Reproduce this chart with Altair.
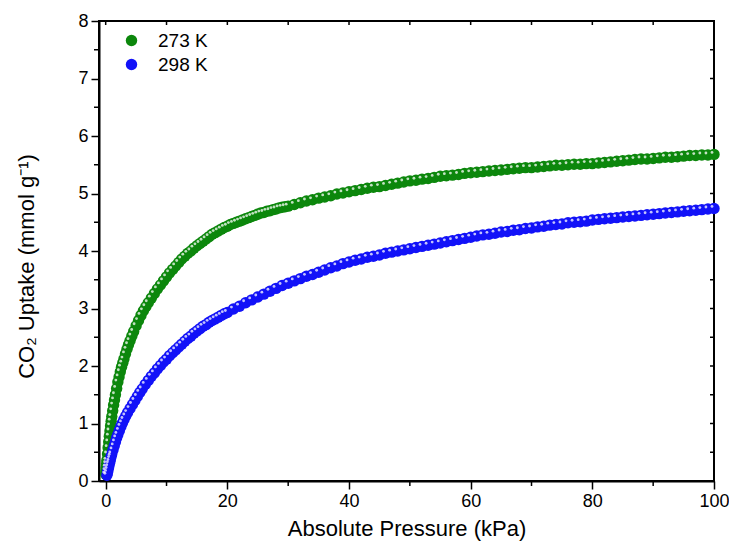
import altair as alt
import pandas as pd

# ---- data ----
p273 = [0.0, 0.05, 0.1, 0.15, 0.2, 0.3, 0.4, 0.5, 0.6, 0.7, 0.8, 0.9, 1.0, 1.15, 1.3, 1.45, 1.6, 1.8, 2.0, 2.2,
        2.4, 2.6, 2.8, 3.0, 3.25, 3.5, 3.75, 4.0, 4.3, 4.6, 5.0, 5.4, 5.8, 6.2, 6.6, 7.0, 7.5, 8.0, 8.5, 9.0, 9.5,
        10, 10.5, 11, 11.5, 12, 12.5, 13, 13.5, 14, 14.5, 15, 15.5, 16, 16.5, 17, 17.5, 18, 18.5, 19, 19.5,
        20, 20.5, 21, 21.5, 22, 22.5, 23, 23.5, 24, 24.5, 25, 25.5, 26, 26.5, 27, 27.5, 28, 28.5, 29, 29.5,
        30, 31, 32, 33, 34, 35,
        36, 37, 38, 39, 40, 41, 42, 43, 44, 45, 46, 47, 48, 49, 50, 51, 52, 53, 54, 55, 56, 57, 58, 59, 60, 61,
        62, 63, 64, 65, 66, 67, 68, 69, 70, 71, 72, 73, 74, 75, 76, 77, 78, 79, 80, 81, 82, 83, 84, 85, 86, 87,
        88, 89, 90, 91, 92, 93, 94, 95, 96, 97, 98, 99, 100]
u273 = [0.12, 0.18, 0.24, 0.30, 0.36, 0.47, 0.58, 0.68, 0.78, 0.87, 0.96, 1.04, 1.12, 1.22, 1.32, 1.41, 1.50, 1.61,
        1.72, 1.81, 1.90, 1.98, 2.05, 2.12, 2.21, 2.29, 2.37, 2.44, 2.52, 2.60, 2.70, 2.79, 2.88, 2.96, 3.03, 3.10,
        3.18, 3.26, 3.34, 3.41, 3.48,
        3.55, 3.62, 3.68, 3.74, 3.80, 3.86, 3.91, 3.96, 4.00, 4.05, 4.09, 4.13, 4.17, 4.21, 4.25, 4.29, 4.32, 4.35,
        4.38, 4.41, 4.43, 4.46, 4.48, 4.50, 4.52, 4.54, 4.56, 4.58, 4.60, 4.62, 4.64, 4.66, 4.67, 4.69, 4.70, 4.72,
        4.73, 4.75, 4.76, 4.77,
        4.78, 4.81, 4.84, 4.87, 4.89, 4.92, 4.94, 4.96, 4.99, 5.01, 5.03,
        5.05, 5.07, 5.09, 5.11, 5.12, 5.14, 5.16, 5.18, 5.20, 5.22, 5.23, 5.25, 5.26, 5.28, 5.30, 5.31, 5.32, 5.33,
        5.35, 5.36, 5.37, 5.38, 5.39, 5.40, 5.41, 5.42, 5.43, 5.44, 5.45, 5.45, 5.46, 5.47, 5.48, 5.49, 5.49, 5.50,
        5.51, 5.51, 5.52, 5.52, 5.53, 5.54, 5.55, 5.56, 5.57, 5.58, 5.59, 5.60, 5.60, 5.61, 5.62, 5.63, 5.63, 5.64,
        5.65, 5.66, 5.66, 5.67, 5.67, 5.68]

p298 = [0.2, 0.3, 0.4, 0.5, 0.6, 0.7, 0.8, 0.9, 1.0, 1.2, 1.4, 1.6, 1.8, 2.0, 2.25, 2.5, 2.75, 3.0, 3.3, 3.6, 4.0,
        4.4, 4.8, 5.2, 5.6, 6.0, 6.5, 7.0, 7.5, 8.0, 8.5, 9.0, 9.5, 10, 10.5, 11, 11.5, 12, 12.5, 13, 13.5, 14,
        14.5, 15, 15.5, 16, 16.5, 17, 17.5, 18, 18.5, 19, 19.5, 20, 21, 22, 23, 24, 25, 26, 27, 28, 29, 30, 31,
        32, 33, 34, 35, 36, 37, 38, 39, 40, 41, 42, 43, 44, 45, 46, 47, 48, 49, 50, 51, 52, 53, 54, 55, 56, 57,
        58, 59, 60, 61, 62, 63, 64, 65, 66, 67, 68, 69, 70, 71, 72, 73, 74, 75, 76, 77, 78, 79, 80, 81, 82, 83,
        84, 85, 86, 87, 88, 89, 90, 91, 92, 93, 94, 95, 96, 97, 98, 99, 100]
u298 = [0.10, 0.15, 0.20, 0.25, 0.30, 0.34, 0.39, 0.43, 0.47, 0.54, 0.61, 0.68, 0.75, 0.81, 0.88, 0.95, 1.01, 1.07,
        1.13, 1.19, 1.26, 1.33, 1.40, 1.47, 1.54, 1.60, 1.68, 1.75, 1.82, 1.88, 1.95, 2.01, 2.07, 2.12, 2.18, 2.23,
        2.28, 2.33, 2.38, 2.43, 2.48, 2.52, 2.57, 2.61, 2.65, 2.69, 2.72, 2.76, 2.79, 2.82, 2.85, 2.88, 2.91, 2.93,
        2.99, 3.04, 3.10, 3.15, 3.20, 3.25, 3.30, 3.35, 3.40, 3.44, 3.48, 3.52, 3.56, 3.59, 3.63, 3.67, 3.71, 3.74,
        3.78, 3.81, 3.84, 3.86, 3.89, 3.91, 3.93, 3.96, 3.98, 4.00, 4.02, 4.04, 4.06, 4.08, 4.10, 4.12, 4.14, 4.16,
        4.18, 4.20, 4.22, 4.24, 4.26, 4.28, 4.29, 4.31, 4.33, 4.34, 4.36, 4.37, 4.39, 4.40, 4.42, 4.43, 4.45, 4.46,
        4.47, 4.49, 4.50, 4.51, 4.52, 4.54, 4.55, 4.56, 4.57, 4.58, 4.59, 4.60, 4.61, 4.62, 4.63, 4.64, 4.65, 4.66,
        4.67, 4.68, 4.69, 4.70, 4.71, 4.72, 4.73, 4.74]

series = ["273 K", "298 K"]
colors = ["#0c870c", "#1212f8"]

x_major = [0, 20, 40, 60, 80, 100]
x_minor = [10, 30, 50, 70, 90]
x_all = [0, 10, 20, 30, 40, 50, 60, 70, 80, 90, 100]
y_major = [0, 1, 2, 3, 4, 5, 6, 7, 8]
y_minor = [0.5, 1.5, 2.5, 3.5, 4.5, 5.5, 6.5, 7.5]
y_all = [0, 0.5, 1, 1.5, 2, 2.5, 3, 3.5, 4, 4.5, 5, 5.5, 6, 6.5, 7, 7.5, 8]

W, H = 615, 460
FONT = "Liberation Sans"

df = pd.concat([
    pd.DataFrame({"P": p273, "U": u273, "T": series[0]}),
    pd.DataFrame({"P": p298, "U": u298, "T": series[1]}),
])

xs = alt.Scale(domain=[-1.1, 100], nice=False, zero=False)
ys = alt.Scale(domain=[0, 8], nice=False, zero=False)

x_axis = alt.Axis(values=x_major, title="Absolute Pressure (kPa)", tickSize=8, tickWidth=1.5,
                  domainWidth=2, domainColor="black", tickColor="black", labelFontSize=18,
                  labelPadding=3, titleFontSize=22, titleFontWeight="normal",
                  titleY=54, titleBaseline="alphabetic", grid=False, labelFlush=False)
y_axis = alt.Axis(values=y_major, title="CO\u2082 Uptake (mmol g\u207b\u00b9)", tickSize=8, tickWidth=1.5,
                  domainWidth=2, domainColor="black", tickColor="black", labelFontSize=18,
                  labelPadding=3, titleFontSize=22, titleFontWeight="normal",
                  titleX=-66, titleY=245, titleAngle=-90, titleAlign="center",
                  titleBaseline="alphabetic", grid=False, labelFlush=False)

SIZE = 130

base = alt.Chart(df).mark_circle(size=SIZE, opacity=1).encode(
    x=alt.X("P:Q", scale=xs, axis=x_axis),
    y=alt.Y("U:Q", scale=ys, axis=y_axis),
    color=alt.Color("T:N", scale=alt.Scale(domain=series, range=colors),
                    legend=alt.Legend(orient="none", legendX=23, legendY=10, title=None,
                                      symbolType="circle", symbolSize=SIZE, labelFontSize=19,
                                      labelOffset=17, rowPadding=4, padding=0,
                                      symbolStrokeWidth=0, labelFont=FONT)),
)

hl = alt.Chart(df).mark_circle(size=8, color="white", opacity=0.75, xOffset=-2, yOffset=-2).encode(
    x=alt.X("P:Q", scale=xs, axis=x_axis),
    y=alt.Y("U:Q", scale=ys, axis=y_axis),
)

def vrules(vals, y0, y1):
    return alt.Chart(pd.DataFrame({"v": vals})).mark_rule(color="black", strokeWidth=1.5).encode(
        x=alt.X("v:Q", scale=xs, axis=x_axis), y=alt.value(y0), y2=alt.value(y1))

def hrules(vals, x0, x1):
    return alt.Chart(pd.DataFrame({"v": vals})).mark_rule(color="black", strokeWidth=1.5).encode(
        y=alt.Y("v:Q", scale=ys, axis=y_axis), x=alt.value(x0), x2=alt.value(x1))

bottom_minor = vrules(x_minor, H, H + 5)
left_minor = hrules(y_minor, -5, 0)
top_ticks = vrules(x_all, 0, 4)
right_ticks = hrules(y_all, W - 4, W)

chart = alt.layer(base, hl, bottom_minor, left_minor, top_ticks, right_ticks).properties(
    width=W, height=H,
    autosize=alt.AutoSizeParams(type="none"),
    padding={"left": 91, "top": 13, "right": 15, "bottom": 62},
).configure_view(stroke="black", strokeWidth=2).configure_axis(
    labelFont=FONT, titleFont=FONT, labelColor="black", titleColor="black"
).configure_legend(labelFont=FONT, labelColor="black")

chart.save("out.html", embed_options={"renderer": "svg", "actions": False})
